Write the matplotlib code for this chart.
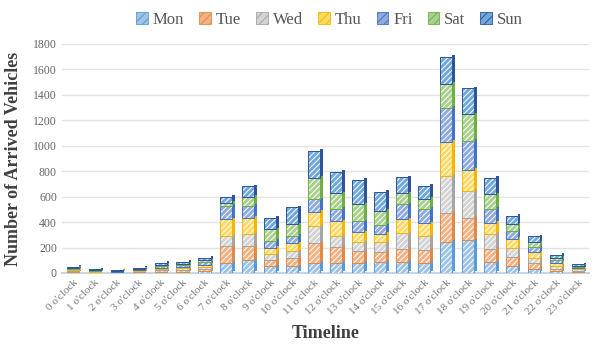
import numpy as np
import matplotlib.pyplot as plt
from matplotlib.patches import Patch

plt.rcParams['font.family'] = ['Liberation Serif', 'DejaVu Serif']
plt.rcParams['hatch.linewidth'] = 0.7

hours = [f"{h} o'clock" for h in range(24)]
days = ['Mon', 'Tue', 'Wed', 'Thu', 'Fri', 'Sat', 'Sun']

# arrivals per hour, one list per weekday
mon = [6, 3, 2, 5, 8, 10, 15, 79, 100, 53, 53, 79, 79, 79, 87, 87, 79, 245, 258, 84, 58, 34, 15, 8]
tue = [8, 4, 3, 7, 15, 15, 20, 132, 111, 53, 66, 158, 126, 92, 79, 105, 105, 229, 177, 105, 69, 45, 20, 10]
wed = [7, 4, 3, 5, 10, 12, 15, 79, 92, 40, 53, 132, 84, 71, 76, 119, 105, 290, 211, 121, 69, 40, 20, 10]
thu = [7, 4, 3, 5, 10, 10, 15, 132, 132, 53, 61, 113, 119, 79, 66, 111, 100, 269, 166, 84, 74, 45, 25, 10]
fri = [7, 4, 3, 6, 10, 13, 20, 105, 92, 53, 58, 97, 97, 87, 66, 119, 116, 264, 229, 111, 61, 42, 20, 10]
sat = [7, 4, 3, 5, 12, 12, 15, 26, 74, 92, 92, 171, 121, 132, 113, 84, 79, 192, 206, 113, 53, 37, 20, 10]
sun = [8, 5, 3, 7, 15, 18, 20, 45, 79, 92, 132, 211, 169, 192, 150, 126, 100, 210, 203, 132, 66, 47, 25, 12]

series = [mon, tue, wed, thu, fri, sat, sun]
faces = ['#9DC3E6', '#F4B183', '#D3D3D3', '#FFD966', '#8FAADC', '#A9D18E', '#6FA8DC']
edges = ['#5B9BD5', '#E08A4A', '#A5A5A5', '#F2B800', '#4472C4', '#70AD47', '#2F5597']

fig = plt.figure(figsize=(5.94, 3.46), dpi=100)
ax = fig.add_axes([0.104, 0.211, 0.887, 0.662])

x = np.arange(len(hours))
w = 0.55
side = 0.12   # width of the shaded side face
lift = 12     # vertical shift of the side face (pseudo depth)
bottom = np.zeros(len(hours))
for name, vals, fc, ec in zip(days, series, faces, edges):
    vals = np.array(vals, dtype=float)
    # shaded side face for a light 3-D look
    ax.bar(x + w / 2 + side / 2, vals, side, bottom=bottom + lift, color=ec,
           linewidth=0, zorder=2)
    ax.bar(x, vals, w, bottom=bottom, color=fc, edgecolor='white', hatch='//////',
           linewidth=0, zorder=3)
    ax.bar(x, vals, w, bottom=bottom, facecolor='none', edgecolor=ec,
           linewidth=0.7, zorder=4)
    bottom += vals

handles = [Patch(facecolor=fc, edgecolor=ec, hatch='////', linewidth=0.6)
           for fc, ec in zip(faces, edges)]
fig.legend(handles, days, loc='upper center', bbox_to_anchor=(0.555, 1.01), ncol=7,
           frameon=False, fontsize=12, handlelength=0.7, handleheight=0.7,
           handletextpad=0.3, columnspacing=0.9, labelcolor='#555555')

ax.set_xlim(-0.5, 23.5)
ax.set_ylim(0, 1800)
ax.set_yticks(np.arange(0, 1801, 200))
ax.yaxis.grid(True, color='#e3e3e3', linewidth=1.0, zorder=0)
ax.set_axisbelow(True)
for s in ['top', 'right', 'left']:
    ax.spines[s].set_visible(False)
ax.spines['bottom'].set_color('#c8d4e0')
ax.spines['bottom'].set_linewidth(1.5)
ax.tick_params(axis='y', length=0, colors='#666666', labelsize=8.5)
ax.tick_params(axis='x', length=0, colors='#777777', labelsize=8)
ax.set_xticks(x)
ax.set_xticklabels(hours, rotation=45, ha='right', rotation_mode='anchor')

ax.set_xlabel('Timeline', fontsize=13, fontweight='bold', color='#404040', labelpad=6)
ax.set_ylabel('Number of Arrived Vehicles', fontsize=13, fontweight='bold',
              color='#404040', labelpad=8)

fig.savefig('out.png', dpi=100)
